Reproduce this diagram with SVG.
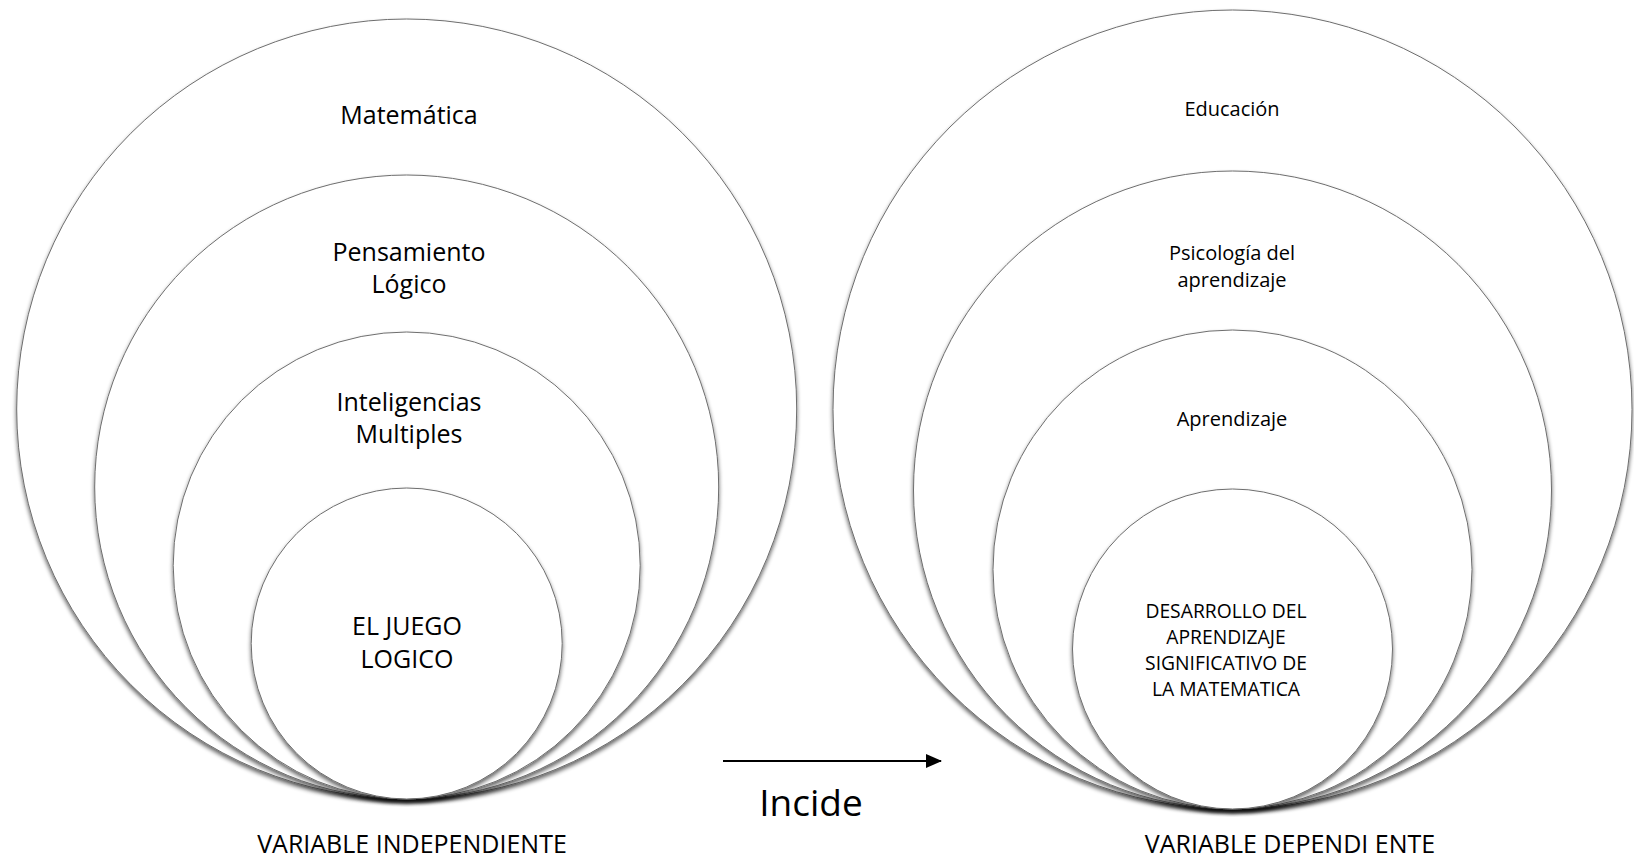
<svg xmlns="http://www.w3.org/2000/svg" width="1634" height="862" viewBox="0 0 1634 862">
  <defs>
    <filter id="shadow" x="-5%" y="-5%" width="110%" height="115%">
      <feGaussianBlur in="SourceAlpha" stdDeviation="2.2" result="b"/>
      <feOffset in="b" dy="3" result="o"/>
      <feComponentTransfer in="o" result="s">
        <feFuncA type="linear" slope="0.6"/>
      </feComponentTransfer>
      <feMerge>
        <feMergeNode in="s"/>
        <feMergeNode in="SourceGraphic"/>
      </feMerge>
    </filter>
    <marker id="arrowhead" markerWidth="16" markerHeight="14" refX="15" refY="7" orient="auto" markerUnits="userSpaceOnUse">
      <path d="M0,0 L16,7 L0,14 Z" fill="#000"/>
    </marker>
  </defs>
  <style>
    .ring { fill: #ffffff; stroke: #6e6e6e; stroke-width: 1; filter: url(#shadow); }
    .lbl { font-family: "Open Sans", "Liberation Sans", sans-serif; fill: #000; text-anchor: middle; }
    .big { font-size: 25px; }
    .small { font-size: 20px; }
    .core { font-size: 19.3px; }
    .caption { font-size: 25px; }
    .incide { font-size: 37px; }
  </style>
  <rect width="1634" height="862" fill="#ffffff"/>

  <!-- Left set -->
  <g id="matematica">
    <circle class="ring" cx="406.7" cy="409" r="390"/>
    <text class="lbl big" x="409" y="124">Matemática</text>
  </g>
  <g id="pensamiento-logico">
    <circle class="ring" cx="406.7" cy="487" r="312"/>
    <text class="lbl big" x="409" y="261">Pensamiento</text>
    <text class="lbl big" x="409" y="293">Lógico</text>
  </g>
  <g id="inteligencias-multiples">
    <circle class="ring" cx="406.7" cy="565.5" r="233.5"/>
    <text class="lbl big" x="409" y="411">Inteligencias</text>
    <text class="lbl big" x="409" y="443">Multiples</text>
  </g>
  <g id="el-juego-logico">
    <circle class="ring" cx="406.7" cy="643.5" r="155.5"/>
    <text class="lbl big" x="407" y="635">EL JUEGO</text>
    <text class="lbl big" x="407" y="668">LOGICO</text>
  </g>
  <g id="variable-independiente">
    <text class="lbl caption" x="412" y="853">VARIABLE INDEPENDIENTE</text>
  </g>

  <!-- Right set -->
  <g id="educacion">
    <circle class="ring" cx="1232.5" cy="409.5" r="399.5"/>
    <text class="lbl small" x="1232" y="116">Educación</text>
  </g>
  <g id="psicologia-aprendizaje">
    <circle class="ring" cx="1232.5" cy="490" r="319"/>
    <text class="lbl small" x="1232" y="260">Psicología del</text>
    <text class="lbl small" x="1232" y="287">aprendizaje</text>
  </g>
  <g id="aprendizaje">
    <circle class="ring" cx="1232.5" cy="569.5" r="239.5"/>
    <text class="lbl small" x="1232" y="426">Aprendizaje</text>
  </g>
  <g id="desarrollo-aprendizaje">
    <circle class="ring" cx="1232.5" cy="649" r="160"/>
    <text class="lbl core" x="1226" y="618">DESARROLLO DEL</text>
    <text class="lbl core" x="1226" y="644">APRENDIZAJE</text>
    <text class="lbl core" x="1226" y="670">SIGNIFICATIVO DE</text>
    <text class="lbl core" x="1226" y="696">LA MATEMATICA</text>
  </g>
  <g id="variable-dependiente">
    <text class="lbl caption" x="1290" y="853">VARIABLE DEPENDI ENTE</text>
  </g>

  <!-- Connectors -->
  <g id="connectors">
    <line x1="723" y1="761" x2="941" y2="761" stroke="#000" stroke-width="2.2" marker-end="url(#arrowhead)"/>
    <text class="lbl incide" x="811" y="816">Incide</text>
  </g>
</svg>
